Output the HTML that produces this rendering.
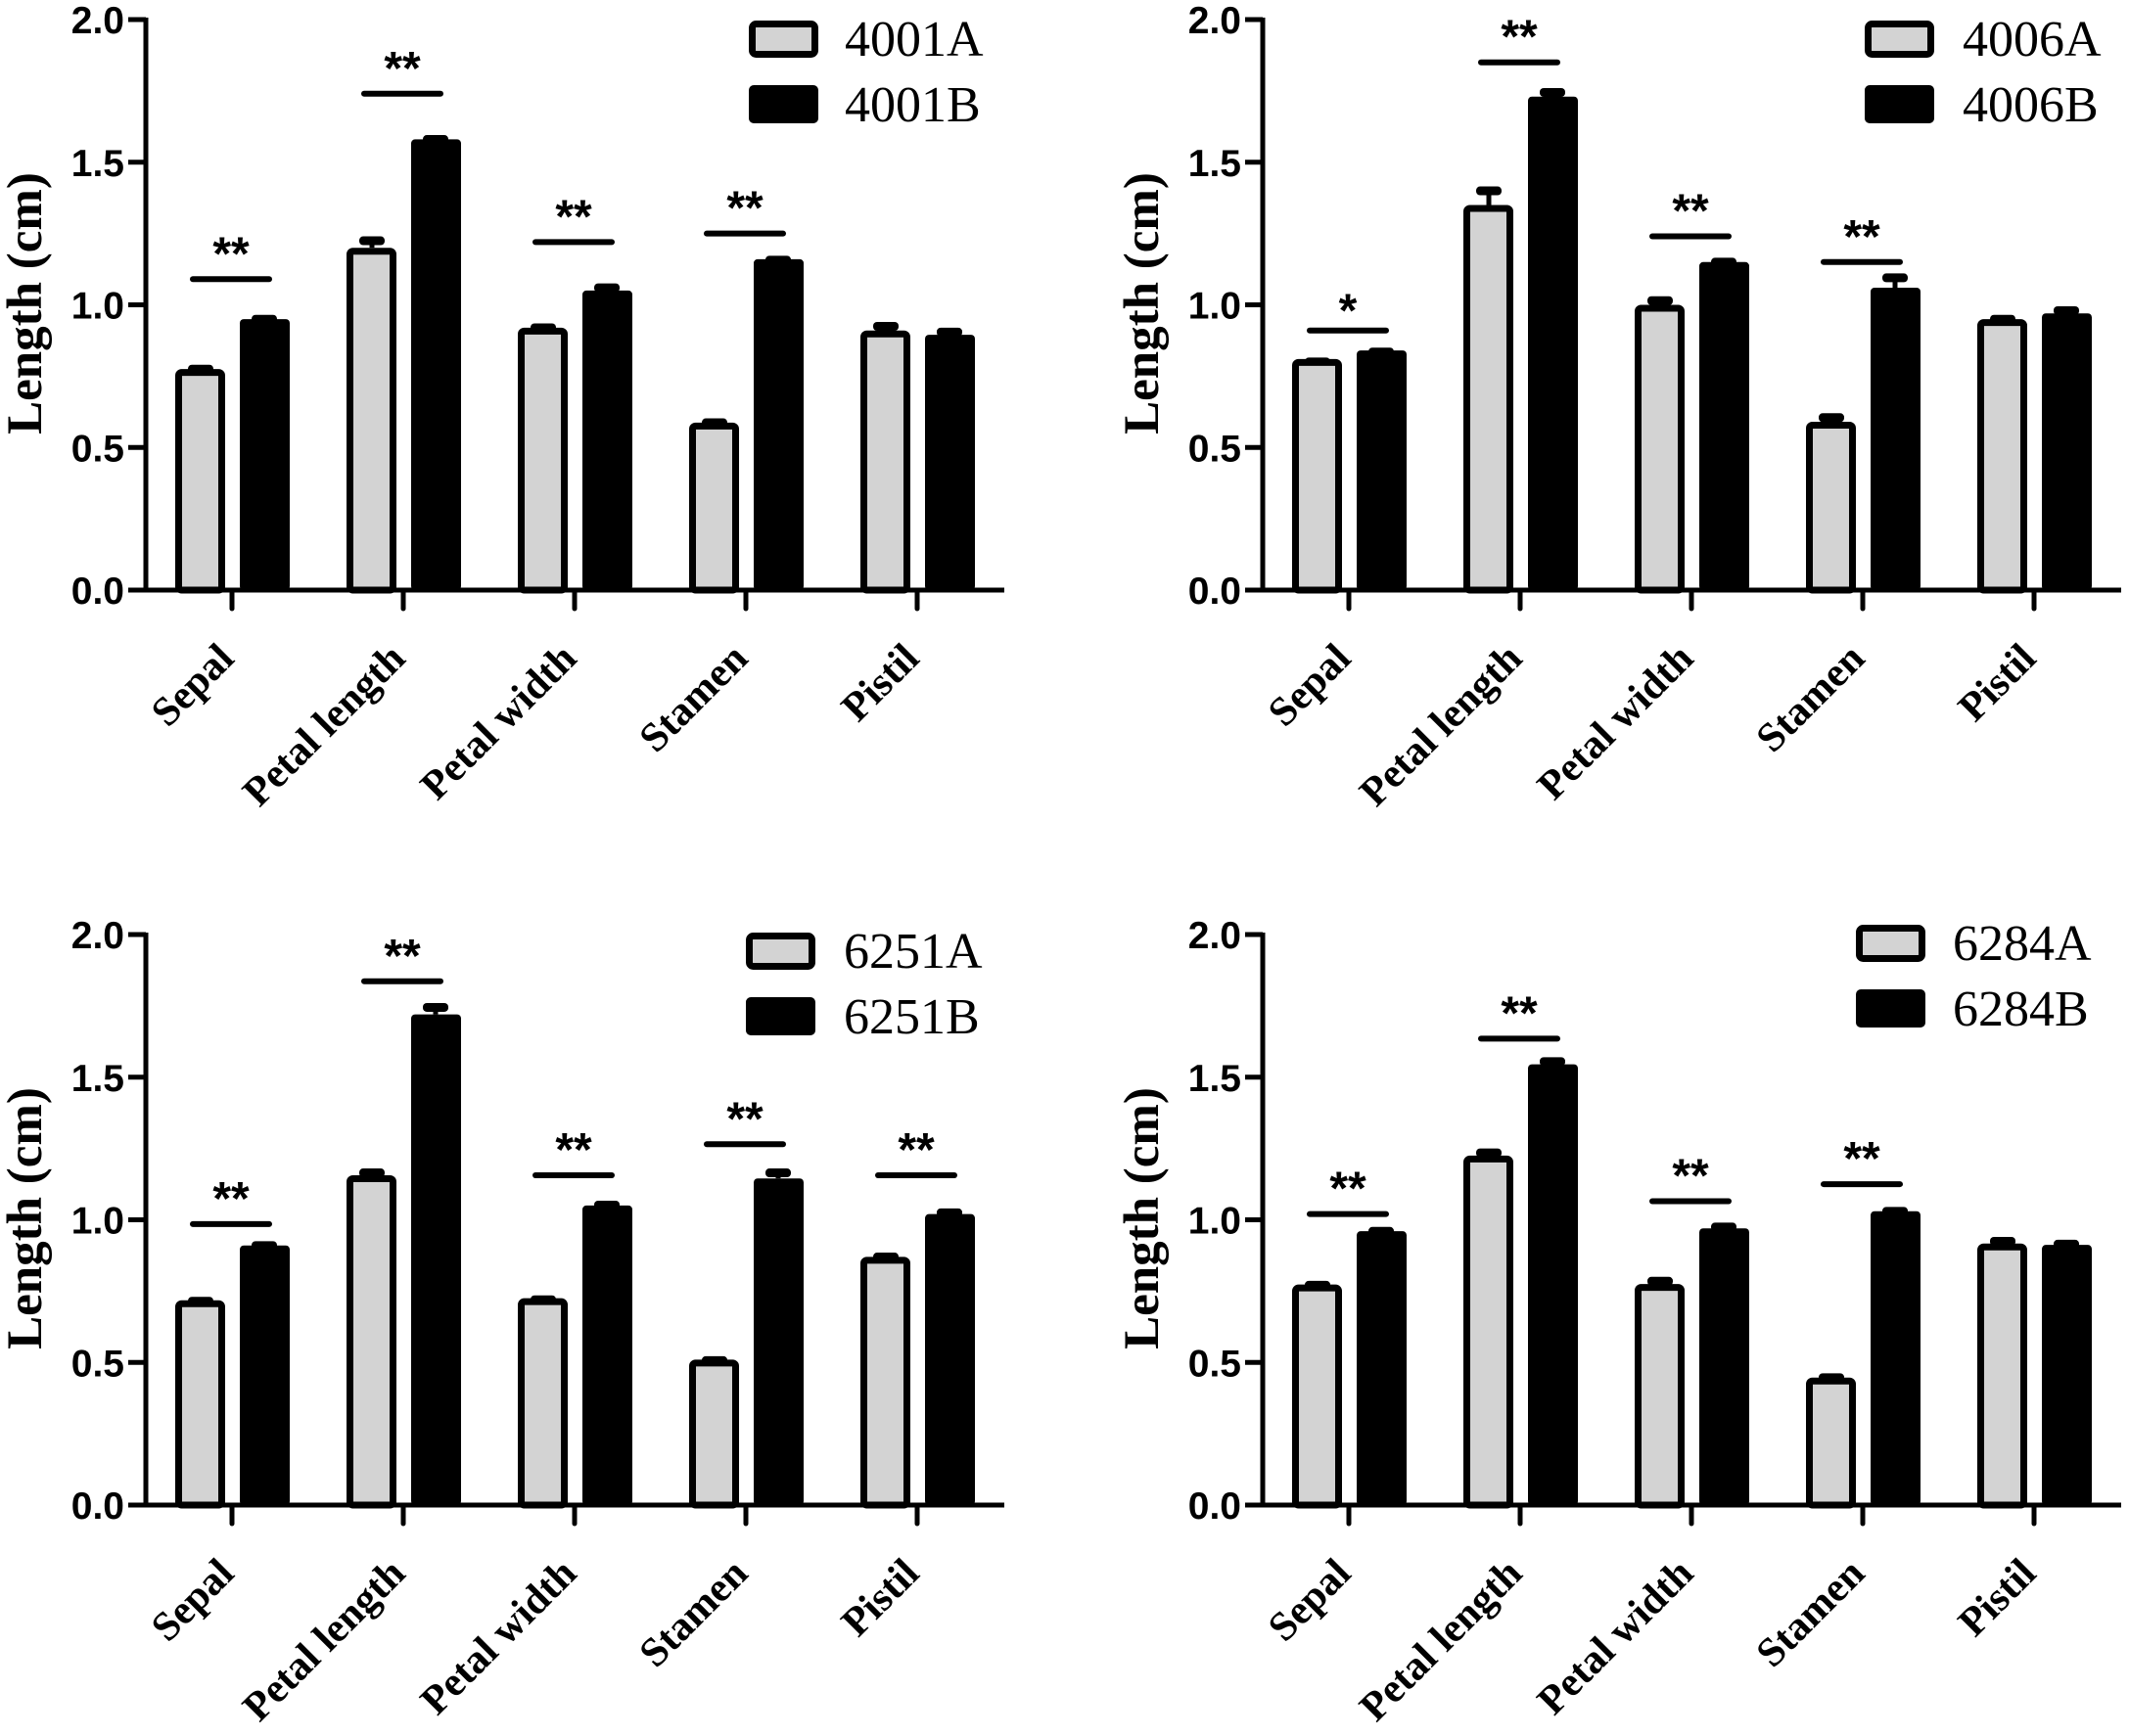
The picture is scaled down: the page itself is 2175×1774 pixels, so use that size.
<!DOCTYPE html>
<html><head><meta charset="utf-8"><style>
html,body{margin:0;padding:0;background:#fff;}
svg{display:block;}
</style></head><body>
<svg id="fig" width="2175" height="1774" viewBox="0 0 2175 1774" xmlns="http://www.w3.org/2000/svg"></svg>
<script>
const categories = ["Sepal","Petal length","Petal width","Stamen","Pistil"];
const yTicks = [0.0,0.5,1.0,1.5,2.0];
const yTickLabels = ["0.0","0.5","1.0","1.5","2.0"];
const seriesNames1 = ["4001A","4001B"];
const valuesA1 = [0.775,1.20,0.92,0.587,0.91];
const errA1    = [0.015,0.04,0.015,0.015,0.03];
const valuesB1 = [0.95,1.58,1.05,1.16,0.895];
const errB1    = [0.015,0.015,0.025,0.012,0.025];
const sig1 = ["**","**","**","**",""];
const sigY1 = [1.09,1.74,1.22,1.25,0];
const seriesNames2 = ["4006A","4006B"];
const valuesA2 = [0.81,1.35,1.00,0.59,0.95];
const errA2    = [0.005,0.065,0.03,0.03,0.015];
const valuesB2 = [0.84,1.73,1.15,1.06,0.97];
const errB2    = [0.01,0.03,0.015,0.05,0.025];
const sig2 = ["*","**","**","**",""];
const sigY2 = [0.91,1.85,1.24,1.15,0];
const seriesNames3 = ["6251A","6251B"];
const valuesA3 = [0.718,1.156,0.725,0.51,0.87];
const errA3    = [0.012,0.024,0.01,0.012,0.015];
const valuesB3 = [0.91,1.72,1.05,1.145,1.02];
const errB3    = [0.015,0.04,0.017,0.035,0.02];
const sig3 = ["**","**","**","**","**"];
const sigY3 = [0.985,1.836,1.156,1.265,1.156];
const seriesNames4 = ["6284A","6284B"];
const valuesA4 = [0.773,1.225,0.775,0.447,0.917];
const errA4    = [0.013,0.025,0.025,0.015,0.023];
const valuesB4 = [0.96,1.545,0.97,1.03,0.912];
const errB4    = [0.015,0.025,0.02,0.015,0.018];
const sig4 = ["**","**","**","**",""];
const sigY4 = [1.02,1.635,1.065,1.125,0];

const NS="http://www.w3.org/2000/svg";
const svg=document.getElementById('fig');
function mk(tag,attrs,parent){const e=document.createElementNS(NS,tag);for(const k in attrs)e.setAttribute(k,attrs[k]);(parent||svg).appendChild(e);return e;}

const panels=[
 {dx:0,dy:0,names:seriesNames1,A:valuesA1,eA:errA1,B:valuesB1,eB:errB1,sig:sig1,sigY:sigY1,lx:765,ly:21,tx:863},
 {dx:1141,dy:0,names:seriesNames2,A:valuesA2,eA:errA2,B:valuesB2,eB:errB2,sig:sig2,sigY:sigY2,lx:764,ly:21,tx:864},
 {dx:0,dy:935,names:seriesNames3,A:valuesA3,eA:errA3,B:valuesB3,eB:errB3,sig:sig3,sigY:sigY3,lx:762,ly:18,tx:862},
 {dx:1141,dy:935,names:seriesNames4,A:valuesA4,eA:errA4,B:valuesB4,eB:errB4,sig:sig4,sigY:sigY4,lx:755,ly:10,tx:854}
];

panels.forEach((p,pi)=>{
  const g=mk('g',{transform:`translate(${p.dx},${p.dy})`});
  
  
  const axX=149, y0=603, yTop=20;
  const yScale=v=>y0-(v/2)*(y0-yTop);
  const tickX=i=>237+i*175;
  categories.forEach((c,i)=>{
    const t=tickX(i);
    const ya=yScale(p.A[i]);
    const ea=yScale(p.A[i]+p.eA[i]);
    const sa=mk('line',{x1:t-32,x2:t-32,y1:ya,y2:ea+4,stroke:'#000','stroke-width':5},g);
    
    
    const ca=mk('rect',{x:t-45,y:ea,width:26,height:9,rx:4,fill:'#000'},g);
    
    
    const ba=mk('rect',{x:t-54.5,y:ya+3.5,width:44,height:y0-ya-3.5,rx:3,fill:'#d3d3d3',stroke:'#000','stroke-width':7},g);
    
    
    const yb=yScale(p.B[i]);
    const eb=yScale(p.B[i]+p.eB[i]);
    const sb=mk('line',{x1:t+33,x2:t+33,y1:yb,y2:eb+4,stroke:'#000','stroke-width':5},g);
    
    
    const cb=mk('rect',{x:t+20,y:eb,width:26,height:9,rx:4,fill:'#000'},g);
    
    
    const bb=mk('rect',{x:t+8,y:yb,width:51,height:y0-yb,rx:4,fill:'#000'},g);
    
    
    if(p.sig[i]){
      const sy=yScale(p.sigY[i]);
      const sl=mk('line',{x1:t-40,x2:t+38,y1:sy,y2:sy,stroke:'#000','stroke-width':6,'stroke-linecap':'round'},g);
      
      
      const st=mk('text',{x:t-1,y:sy+(p.sig[i]==='*'?-4:-10),'text-anchor':'middle','font-family':'Liberation Sans, sans-serif','font-weight':'bold','font-size':48},g);
      st.textContent=p.sig[i];
      
      
    }
    const xt=mk('line',{x1:t,x2:t,y1:y0,y2:622,stroke:'#000','stroke-width':5,'stroke-linecap':'round'},g);
    
    
    const xl=mk('text',{transform:`translate(${t+4},${y0+72}) rotate(-45)`,'text-anchor':'end','font-family':'Liberation Serif, serif','font-weight':'bold','font-size':42},g);
    xl.textContent=c;
    
    
  });
  const ya=mk('line',{x1:axX,x2:axX,y1:yTop-2,y2:y0+2,stroke:'#000','stroke-width':5},g);
  
  
  const xa=mk('line',{x1:axX-2,x2:1026,y1:y0,y2:y0,stroke:'#000','stroke-width':5},g);
  
  
  yTicks.forEach((v,k)=>{
    const y=yScale(v);
    const tl=mk('line',{x1:131,x2:axX,y1:y,y2:y,stroke:'#000','stroke-width':5},g);
    
    
    const tt=mk('text',{x:127,y:y+14,'text-anchor':'end','font-family':'Liberation Sans, sans-serif','font-weight':'bold','font-size':39},g);
    tt.textContent=yTickLabels[k];
    
    
  });
  const yt=mk('text',{transform:`translate(42,310) rotate(-90)`,'text-anchor':'middle','font-family':'Liberation Serif, serif','font-weight':'bold','font-size':51},g);
  yt.textContent='Length (cm)';
  
  
  const la=mk('rect',{x:p.lx+3.5,y:p.ly+3.5,width:64,height:31,rx:4,fill:'#d3d3d3',stroke:'#000','stroke-width':7},g);
  
  
  const lta=mk('text',{x:p.tx,y:p.ly+36,'font-family':'Liberation Serif, serif','font-size':52},g);
  lta.textContent=p.names[0];
  
  
  const lb=mk('rect',{x:p.lx,y:p.ly+66,width:71,height:39,rx:5,fill:'#000'},g);
  
  
  const ltb=mk('text',{x:p.tx,y:p.ly+103,'font-family':'Liberation Serif, serif','font-size':52},g);
  ltb.textContent=p.names[1];
  
  
});
</script>
</body></html>
